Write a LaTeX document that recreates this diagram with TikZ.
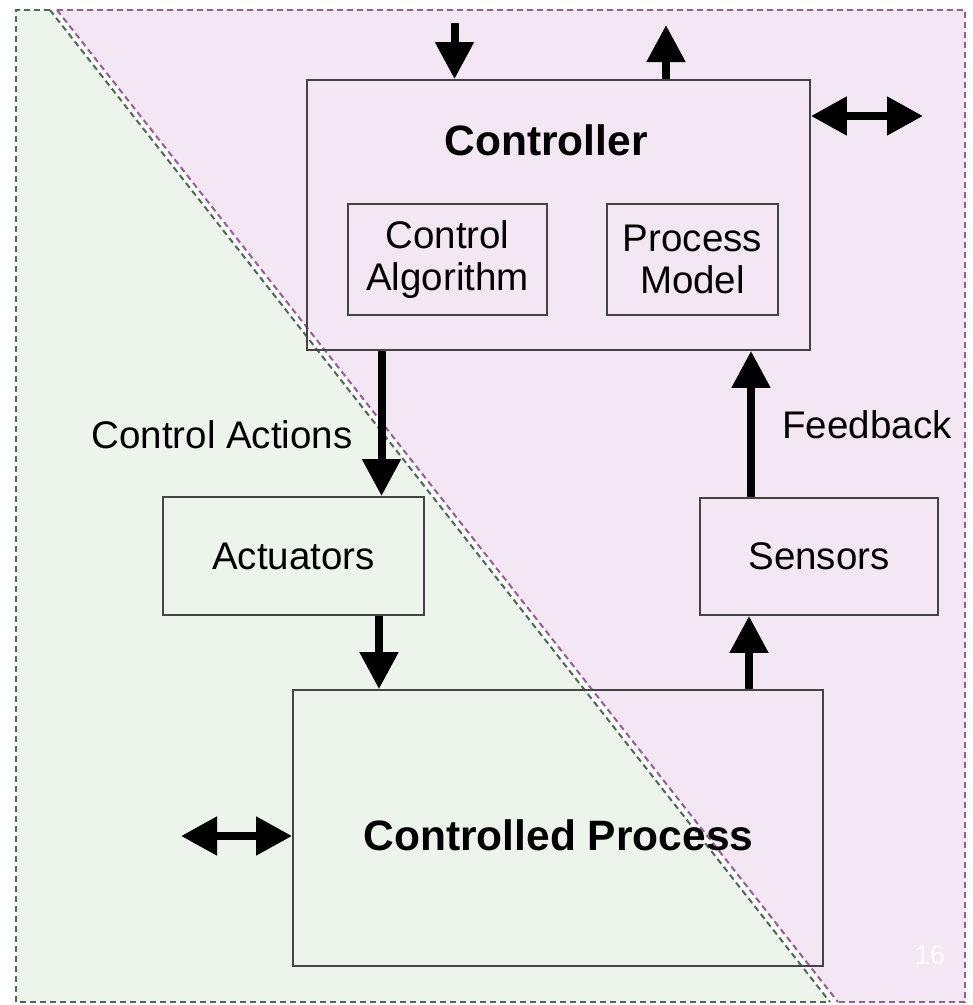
\documentclass[tikz,border=0pt]{standalone}
\usepackage{fontspec}
\setmainfont{Liberation Sans}
\usetikzlibrary{arrows.meta}
\definecolor{greenzone}{HTML}{EDF4EB}
\definecolor{purplezone}{HTML}{F2E7F3}
\definecolor{greenedge}{HTML}{4A6A52}
\definecolor{purpleedge}{HTML}{9A5A9C}
\definecolor{boxedge}{HTML}{444444}
\tikzset{
  zoneedge/.style={line width=2pt, dash pattern=on 6pt off 4pt},
  blockbox/.style={draw=boxedge, line width=1.8pt, rectangle, inner sep=0pt},
  regtext/.style={font=\fontsize{38.5}{42}\selectfont, text=black},
  boldtext/.style={font=\fontsize{42.5}{46}\selectfont\bfseries, text=black},
  flow/.style={line width=8pt, -{Triangle[width=37pt,length=37pt]}},
  twoway/.style={line width=8pt, {Triangle[width=37pt,length=36pt]}-{Triangle[width=37pt,length=36pt]}},
}
\begin{document}
\begin{tikzpicture}[x=1pt,y=-1pt]
\useasboundingbox (0,0) rectangle (973,1005);
\fill[white] (0,0) rectangle (973,1005);

% two shaded zones split by the diagonal
\fill[greenzone] (16,10) -- (50,10) -- (830,1002) -- (16,1002) -- cycle;
\fill[purplezone] (57,10) -- (965,10) -- (965,1002) -- (838,1002) -- cycle;
\draw[zoneedge, greenedge] (50,10) -- (16,10) -- (16,1002) -- (830,1002);
\draw[zoneedge, greenedge] (50,10) -- (830,1002);
\draw[zoneedge, purpleedge] (57,10) -- (965,10) -- (965,1002) -- (838,1002);
\draw[zoneedge, purpleedge] (57,10) -- (838,1002);

% blocks
\node[blockbox, minimum width=503pt, minimum height=270pt] (ctrl) at (558.5,215) {};
\node[boldtext, anchor=base] (ctrltitle) at (546,155) {Controller};
\node[blockbox, regtext, minimum width=199pt, minimum height=111pt, align=center] (alg) at (447.5,259.5) {Control\\Algorithm};
\node[blockbox, regtext, minimum width=171pt, minimum height=111pt, align=center] (pm) at (692.5,259.5) {Process\\Model};
\node[blockbox, regtext, minimum width=261pt, minimum height=118pt] (act) at (293.5,556) {Actuators};
\node[blockbox, regtext, minimum width=238pt, minimum height=117pt] (sens) at (819,556.5) {Sensors};
\node[blockbox, minimum width=530pt, minimum height=276pt] (proc) at (558,828) {};
\node[boldtext, anchor=base] (proctitle) at (558.5,850) {Controlled Process};

% edge labels
\node[regtext, anchor=base] (calabel) at (222,448) {Control Actions};
\node[regtext, anchor=base] (fblabel) at (867,438) {Feedback};
\node[font=\fontsize{27}{30}\selectfont, text=white] (pagenum) at (930,955) {16};

% connector guides
\coordinate (inTop) at (454.5,23);
\coordinate (outTop) at (666,25);
\coordinate (extR) at (923,116);
\coordinate (extL) at (181,836);
\coordinate (caX) at (381.5,0);
\coordinate (apX) at (379,0);
\coordinate (psX) at (749,0);
\coordinate (fbX) at (751,0);

% connectors
\draw[flow] (inTop) -- (inTop |- ctrl.north);
\draw[flow] (outTop |- ctrl.north) -- (outTop);
\draw[twoway] (ctrl.east |- extR) -- (extR);
\draw[twoway] (extL) -- (extL -| proc.west);
\draw[flow] (ctrl.south -| caX) -- (act.north -| caX);
\draw[flow] (act.south -| apX) -- (proc.north -| apX);
\draw[flow] (proc.north -| psX) -- (sens.south -| psX);
\draw[flow] (sens.north -| fbX) -- (ctrl.south -| fbX);
\end{tikzpicture}
\end{document}
